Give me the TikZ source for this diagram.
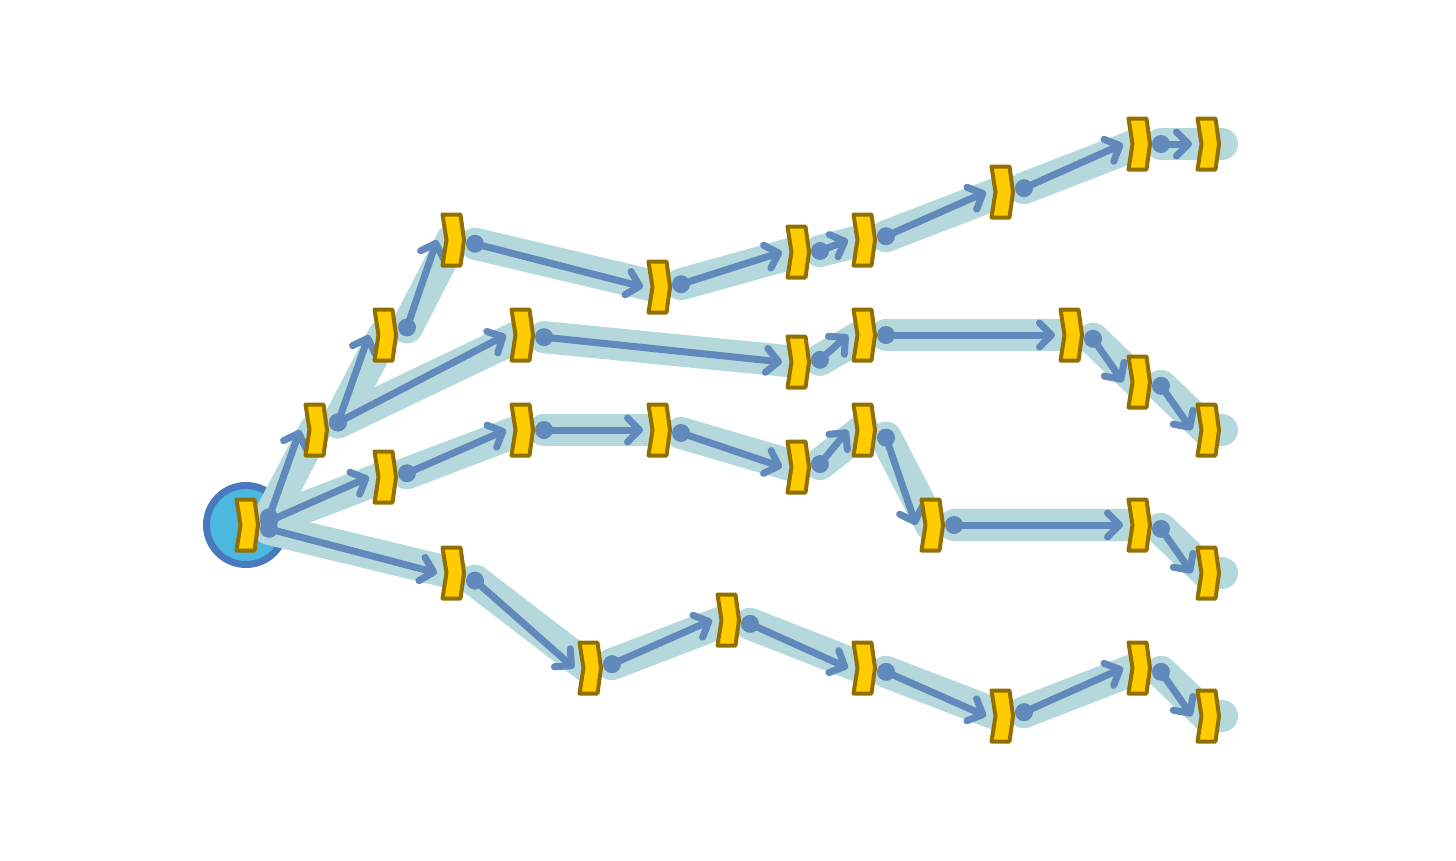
\documentclass[tikz,border=0pt]{standalone}
\usetikzlibrary{arrows.meta,calc}

\pgfdeclarelayer{back}
\pgfdeclarelayer{halos}
\pgfdeclarelayer{flows}
\pgfsetlayers{back,halos,flows,main}

\definecolor{halocol}{HTML}{B4D8DB}
\definecolor{flowcol}{HTML}{6189BB}
\definecolor{chevfill}{HTML}{FFCC00}
\definecolor{chevline}{HTML}{917000}
\definecolor{rootfill}{HTML}{4CB8E0}
\definecolor{rootline}{HTML}{4A79BE}

\newcommand\chevnode[2]{%
  \node[chevbox] (#1) at #2 {};
  \draw[chevshape] ([shift={(-9.5,-25.5)}]#1.center) -- ([shift={(8.5,-25.5)}]#1.center)
    -- ([shift={(12,0)}]#1.center) -- ([shift={(8.5,25.5)}]#1.center)
    -- ([shift={(-9.5,25.5)}]#1.center) -- ([shift={(-5.5,0)}]#1.center) -- cycle;}

\begin{document}
\begin{tikzpicture}[x=1pt,y=-1pt,
  chevbox/.style={minimum width=19pt, minimum height=51pt, inner sep=0pt},
  chevshape/.style={draw=chevline, fill=chevfill, line width=4pt, line join=round},
  halo/.style={draw=halocol, line width=32pt, line cap=round, line join=round},
  flow/.style={draw=flowcol, line width=7pt, line cap=round,
    -{Straight Barb[length=12pt,width=24pt,round]}},
  dot/.style={fill=flowcol},
  rootdisc/.style={draw=rootline, fill=rootfill, line width=7pt}]
\useasboundingbox (0,0) rectangle (1456,860);

\chevnode{r}{(246,525)}

\chevnode{a1}{(315,430)}
\chevnode{a2}{(384,335)}
\chevnode{a3}{(452,240)}
\chevnode{a4}{(658,287)}
\chevnode{a5}{(797,252)}
\chevnode{a6}{(863,240)}
\chevnode{a7}{(1001,192)}
\chevnode{a8}{(1138,144)}
\chevnode{a9}{(1207,144)}

\chevnode{b1}{(521,335)}
\chevnode{b2}{(797,362)}
\chevnode{b3}{(863,335)}
\chevnode{b4}{(1070,335)}
\chevnode{b5}{(1138,382)}
\chevnode{b6}{(1207,430)}

\chevnode{c1}{(384,477)}
\chevnode{c2}{(521,430)}
\chevnode{c3}{(658,430)}
\chevnode{c4}{(797,467)}
\chevnode{c5}{(863,430)}
\chevnode{c6}{(931,525)}
\chevnode{c7}{(1138,525)}
\chevnode{c8}{(1207,573)}

\chevnode{d1}{(452,573)}
\chevnode{d2}{(589,668)}
\chevnode{d3}{(727,620)}
\chevnode{d4}{(863,668)}
\chevnode{d5}{(1001,716)}
\chevnode{d6}{(1138,668)}
\chevnode{d7}{(1207,716)}

\begin{pgfonlayer}{back}
\draw[rootdisc] (r.center) circle[radius=39.5pt];
\end{pgfonlayer}

\foreach \s/\t in {r/a1, a1/a2, a2/a3, a3/a4, a4/a5, a5/a6, a6/a7, a7/a8, a8/a9,
    a1/b1, b1/b2, b2/b3, b3/b4, b4/b5, b5/b6,
    r/c1, c1/c2, c2/c3, c3/c4, c4/c5, c5/c6, c6/c7, c7/c8,
    r/d1, d1/d2, d2/d3, d3/d4, d4/d5, d5/d6, d6/d7} {
  \begin{pgfonlayer}{halos}
  \draw[halo] let \p1=(\s.center), \p2=(\t.center) in
    (\x1+23,{\y1+0.08*(\y2-\y1)}) -- (\t.center);
  \end{pgfonlayer}
  \begin{pgfonlayer}{flows}
  \fill[dot] let \p1=(\s.center), \p2=(\t.center) in
    (\x1+23,{\y1+0.08*(\y2-\y1)}) circle[radius=9pt];
  \draw[flow] let \p1=(\s.center), \p2=(\t.center) in
    (\x1+23,{\y1+0.08*(\y2-\y1)}) -- (\x2-15,\y2);
  \end{pgfonlayer}
}

\begin{pgfonlayer}{halos}
\foreach \l in {a9,b6,c8,d7}
  \draw[halo] (\l.center) -- ([xshift=15pt]\l.center);
\end{pgfonlayer}
\end{tikzpicture}
\end{document}
